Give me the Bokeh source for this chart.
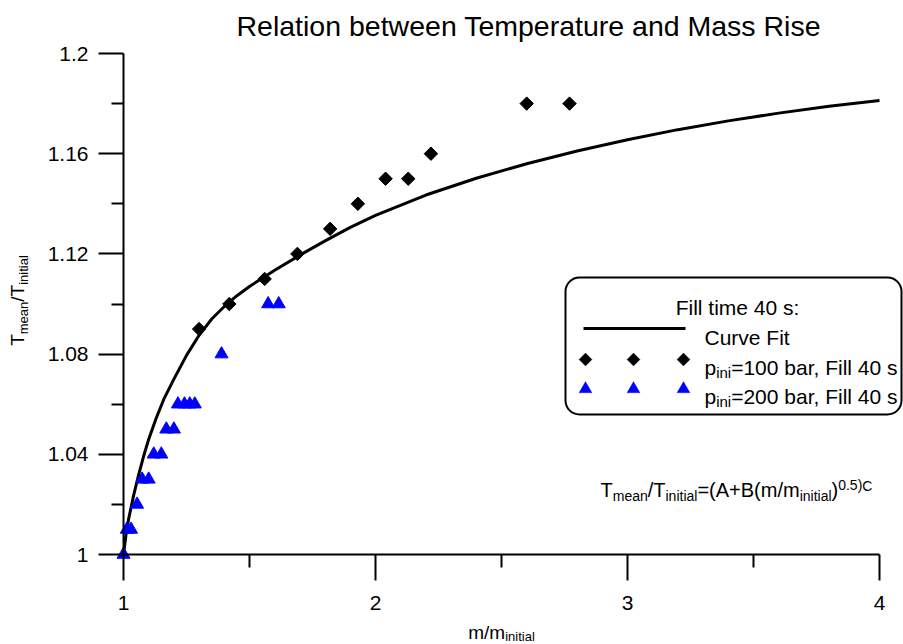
import math
from bokeh.plotting import figure
from bokeh.models import (Range1d, FixedTicker, CustomJSTickFormatter, Label,
                          BoxAnnotation, PolyAnnotation, Arrow)
from bokeh.embed import file_html
from bokeh.resources import INLINE

# ---------------- data ----------------
curve_x = [1.00, 1.01, 1.02, 1.04, 1.06, 1.08, 1.10, 1.13, 1.16, 1.20, 1.25, 1.30,
           1.35, 1.40, 1.45, 1.50, 1.60, 1.70, 1.80, 1.90, 2.00, 2.20, 2.40, 2.60,
           2.80, 3.00, 3.20, 3.40, 3.60, 3.80, 4.00]
curve_y = [1.0000, 1.0080, 1.0140, 1.0235, 1.0318, 1.0393, 1.0460, 1.0545, 1.0620,
           1.0700, 1.0795, 1.0875, 1.0940, 1.0990, 1.1033, 1.1070, 1.1135, 1.1195,
           1.1252, 1.1306, 1.1354, 1.1435, 1.1502, 1.1560, 1.1611, 1.1656, 1.1696,
           1.1731, 1.1762, 1.1789, 1.1812]

p100_x = [1.30, 1.42, 1.56, 1.69, 1.82, 1.93, 2.04, 2.13, 2.22, 2.60, 2.77]
p100_y = [1.09, 1.10, 1.11, 1.12, 1.13, 1.14, 1.15, 1.15, 1.16, 1.18, 1.18]

p200_x = [1.00, 1.013, 1.03, 1.054, 1.074, 1.10, 1.12, 1.15, 1.17, 1.20, 1.216,
          1.242, 1.263, 1.283, 1.389, 1.574, 1.616]
p200_y = [1.00, 1.01, 1.01, 1.02, 1.03, 1.03, 1.04, 1.04, 1.05, 1.05, 1.06,
          1.06, 1.06, 1.06, 1.08, 1.10, 1.10]

x_ticks = [1, 2, 3, 4]
x_minor = [1.5, 2.5, 3.5]
y_ticks = [1.0, 1.04, 1.08, 1.12, 1.16, 1.2]
y_minor = [1.02, 1.06, 1.10, 1.14, 1.18]

title_text = "Relation between Temperature and Mass Rise"

# ---------------- layout ----------------
FONT = "Liberation Sans"
CW, CH = 903, 644          # canvas size
BT = 46                    # room for the title above the frame
OX, OY = 123.0, 554.0      # page position of the axes origin (1, 1)
XS, YS = 252.0, 2505.0     # pixels per data unit
FW, FH = CW, CH - BT

X0, X1 = 1 - OX / XS, 1 + (CW - OX) / XS
Y0, Y1 = 1 - (CH - OY) / YS, 1 + (OY - BT) / YS


def sx(px):
    return px


def sy(py):
    return CH - py


# Arial / Liberation Sans advance widths (1/1000 em)
W = {' ': 278, '(': 333, ')': 333, '+': 584, ',': 278, '.': 278, '/': 278, ':': 278,
     '=': 584, 'A': 667, 'B': 667, 'C': 722, 'F': 611, 'T': 611,
     'a': 556, 'b': 556, 'd': 556, 'e': 556, 'i': 222, 'l': 222, 'm': 833,
     'n': 556, 'p': 556, 'r': 333, 's': 500, 't': 278, 'u': 556, 'v': 500}
for d in "0123456789":
    W[d] = 556


def tw(s, size):
    return sum(W.get(c, 556) for c in s) / 1000.0 * size


p = figure(frame_width=FW, frame_height=FH,
           x_range=Range1d(X0, X1), y_range=Range1d(Y0, Y1),
           output_backend="svg", toolbar_location=None,
           min_border_left=0, min_border_top=BT, min_border_right=0,
           min_border_bottom=0, title=title_text)
p.outline_line_color = None
p.xgrid.grid_line_color = None
p.ygrid.grid_line_color = None
p.background_fill_color = "white"
p.border_fill_color = "white"

p.title.text_font = FONT
p.title.text_font_size = "28.5px"
p.title.text_font_style = "normal"
p.title.text_color = "black"
p.title.align = "left"
p.title.offset = 236
p.title.standoff = 10

# curve and data
p.line(curve_x, curve_y, line_width=3, line_color="black")
p.scatter(p100_x, p100_y, marker="square", angle=math.pi / 4, size=9.5,
          fill_color="black", line_color="black")
p.scatter(p200_x, p200_y, marker="triangle", size=13,
          fill_color="#0000ff", line_color="#0000ff")

# axes (crossing at (1, 1), drawn inside the frame)
for ax, ticks, minor, lo, hi in ((p.xaxis[0], x_ticks, x_minor, 1, 4),
                                 (p.yaxis[0], y_ticks, y_minor, 1.0, 1.2)):
    ax.fixed_location = 1.0
    ax.bounds = (lo, hi)
    ax.ticker = FixedTicker(ticks=ticks, minor_ticks=minor)
    ax.axis_line_width = 2
    ax.major_tick_line_width = 2
    ax.minor_tick_line_width = 2
    ax.major_tick_in = 0
    ax.minor_tick_in = 0
    ax.major_label_text_font = FONT
    ax.major_label_text_font_size = "21px"
    ax.major_label_text_color = "black"
    ax.axis_line_color = "black"
    ax.major_tick_line_color = "black"
    ax.minor_tick_line_color = "black"

p.xaxis.major_tick_out = 26
p.xaxis.minor_tick_out = 13
p.xaxis.major_label_standoff = 15
p.yaxis.major_tick_out = 25
p.yaxis.minor_tick_out = 12
p.yaxis.major_label_standoff = 10
p.xaxis.formatter = CustomJSTickFormatter(code="return tick.toFixed(0)")
p.yaxis.formatter = CustomJSTickFormatter(code="return String(parseFloat(tick.toFixed(2)))")


def seq(segs, x, y, rotated=False):
    pos = 0.0
    for text, size, dy in segs:
        if not rotated:
            lab = Label(x=sx(x + pos), y=sy(y + dy), x_units="screen", y_units="screen",
                        text=text, text_font=FONT, text_font_size=f"{size}px",
                        text_align="left", text_baseline="alphabetic", text_color="black")
        else:
            lab = Label(x=sx(x + dy), y=sy(y - pos), x_units="screen", y_units="screen",
                        angle=math.pi / 2, text=text, text_font=FONT,
                        text_font_size=f"{size}px", text_align="left",
                        text_baseline="alphabetic", text_color="black")
        p.add_layout(lab)
        pos += tw(text, size)
    return pos


# axis titles
ysegs = [("T", 19, 0), ("mean", 13, 6), ("/T", 19, 0), ("initial", 13, 6)]
ytot = sum(tw(t, s) for t, s, _ in ysegs)
seq(ysegs, 17, 300 + ytot / 2, rotated=True)

xsegs = [("m/m", 19, 0), ("initial", 13, 4)]
xtot = sum(tw(t, s) for t, s, _ in xsegs)
seq(xsegs, 501 - xtot / 2, 632)

# formula
seq([("T", 20, 0), ("mean", 14, 6), ("/T", 20, 0), ("initial", 14, 6),
     ("=(A+B(m/m", 20, 0), ("initial", 14, 6), (")", 20, 0), ("0.5)", 14, -5),
     ("C", 14, -4)], 600, 489)

# legend
p.add_layout(BoxAnnotation(left=sx(565), right=sx(901), top=sy(277), bottom=sy(414),
                           left_units="screen", right_units="screen",
                           top_units="screen", bottom_units="screen",
                           fill_color="white", fill_alpha=1.0, line_color="black",
                           line_width=2, line_alpha=1.0, border_radius=14))
p.add_layout(Label(x=sx(737), y=sy(307), x_units="screen", y_units="screen",
                   text="Fill time 40 s:", text_font=FONT, text_font_size="21px",
                   text_align="center", text_baseline="alphabetic", text_color="black"))
p.add_layout(Arrow(end=None, x_start=sx(583), y_start=sy(328), x_end=sx(685), y_end=sy(328),
                   start_units="screen", end_units="screen", line_width=3,
                   line_color="black"))
seq([("Curve Fit", 21, 0)], 704, 337)
seq([("p", 21, 0), ("ini", 15, 5), ("=100 bar, Fill 40 s", 21, 0)], 704, 367)
seq([("p", 21, 0), ("ini", 15, 5), ("=200 bar, Fill 40 s", 21, 0)], 704, 396)

for cx in (585, 633, 683):
    cy = 359
    p.add_layout(PolyAnnotation(xs=[sx(cx), sx(cx + 6.5), sx(cx), sx(cx - 6.5)],
                                ys=[sy(cy - 6.5), sy(cy), sy(cy + 6.5), sy(cy)],
                                xs_units="screen", ys_units="screen",
                                fill_color="black", fill_alpha=1.0, line_color="black"))
    cy = 388
    p.add_layout(PolyAnnotation(xs=[sx(cx), sx(cx + 6.5), sx(cx - 6.5)],
                                ys=[sy(cy - 7), sy(cy + 4.3), sy(cy + 4.3)],
                                xs_units="screen", ys_units="screen",
                                fill_color="#0000ff", fill_alpha=1.0, line_color="#0000ff"))

open("out.html", "w").write(file_html(p, INLINE))
